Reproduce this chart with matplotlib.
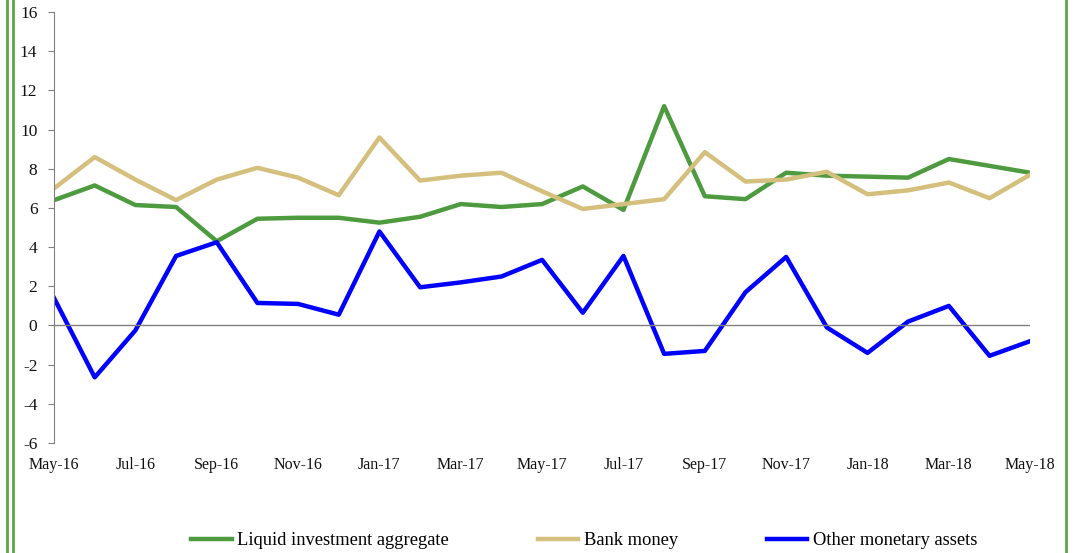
import numpy as np
import matplotlib.pyplot as plt
from matplotlib.lines import Line2D

months = ["May-16", "Jun-16", "Jul-16", "Aug-16", "Sep-16", "Oct-16", "Nov-16", "Dec-16",
          "Jan-17", "Feb-17", "Mar-17", "Apr-17", "May-17", "Jun-17", "Jul-17", "Aug-17",
          "Sep-17", "Oct-17", "Nov-17", "Dec-17", "Jan-18", "Feb-18", "Mar-18", "Apr-18", "May-18"]

liquid = [6.4, 7.15, 6.15, 6.05, 4.3, 5.45, 5.5, 5.5, 5.25, 5.55, 6.2, 6.05, 6.2,
          7.1, 5.9, 11.2, 6.6, 6.45, 7.8, 7.65, 7.6, 7.55, 8.5, 8.15, 7.8]
bank = [7.0, 8.6, 7.45, 6.4, 7.45, 8.05, 7.55, 6.65, 9.6, 7.4, 7.65, 7.8, 6.85,
        5.95, 6.2, 6.45, 8.85, 7.35, 7.45, 7.85, 6.7, 6.9, 7.3, 6.5, 7.7]
other = [1.4, -2.65, -0.25, 3.55, 4.25, 1.15, 1.1, 0.55, 4.8, 1.95, 2.2, 2.5, 3.35,
         0.65, 3.55, -1.45, -1.3, 1.7, 3.5, -0.1, -1.4, 0.2, 1.0, -1.55, -0.8]

plt.rcParams['font.family'] = ['Liberation Serif', 'DejaVu Serif']
plt.rcParams['axes.unicode_minus'] = False

fig = plt.figure(figsize=(10.81, 5.53), dpi=100)
ax = fig.add_axes([0.05, 0.199, 0.903, 0.779])

x = np.arange(len(months))
ax.plot(x, liquid, color='#4E9A3F', lw=3.2, label='Liquid investment aggregate')
ax.plot(x, bank, color='#D4BF7C', lw=3.2, label='Bank money')
ax.plot(x, other, color='#0000FF', lw=3.2, label='Other monetary assets')

ax.set_xlim(0, len(months) - 1)
ax.set_ylim(-6, 16)
ax.set_yticks(range(-6, 17, 2))
ax.set_xticks(x[::2])
ax.set_xticklabels(months[::2])
ax.axhline(0, color='#808080', lw=1)

for s in ['top', 'right', 'bottom']:
    ax.spines[s].set_visible(False)
ax.spines['left'].set_color('#808080')
ax.tick_params(axis='y', colors='#808080', length=4, labelsize=12.5, labelcolor='#111111', pad=8)
ax.tick_params(axis='x', length=0, labelsize=11.5, labelcolor='#111111', pad=10)

ax.legend(loc='center', bbox_to_anchor=(0.543, -0.227), ncol=3, frameon=False,
          fontsize=13.3, handlelength=2.2, columnspacing=4.8, handletextpad=0.3)

# green frame lines on the sides
for xp in [7, 13, 1066]:
    fig.add_artist(Line2D([xp / 1081, xp / 1081], [0, 1], color='#5BA64A', lw=2,
                          transform=fig.transFigure))

fig.savefig('out.png', dpi=100)
